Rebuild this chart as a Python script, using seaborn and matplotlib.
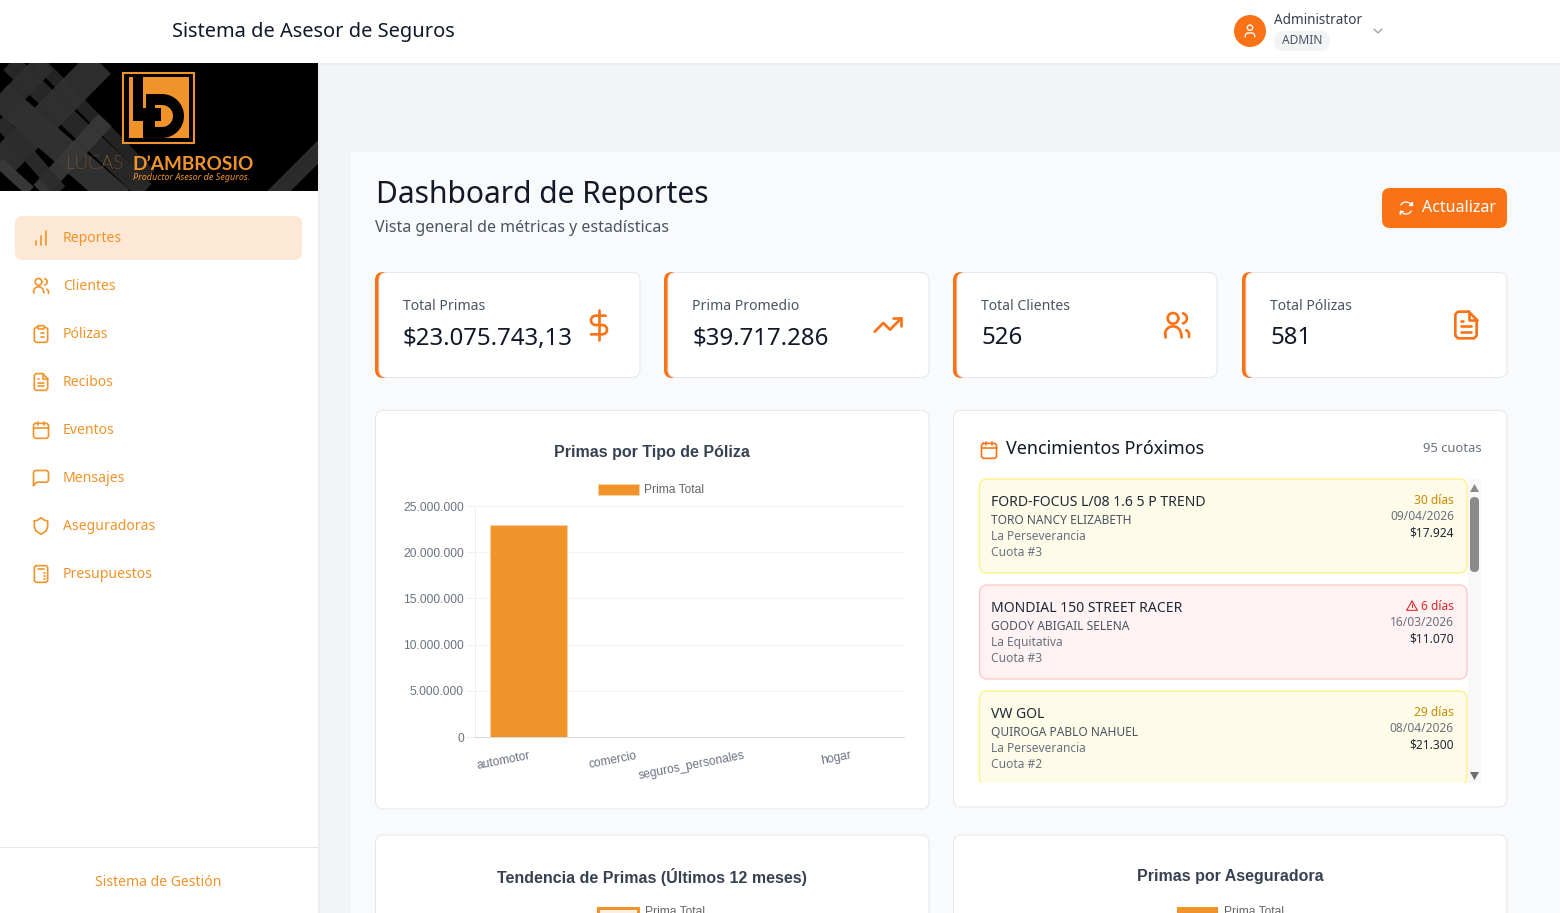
import numpy as np
import pandas as pd
import matplotlib
matplotlib.use('Agg')
import matplotlib.pyplot as plt
import seaborn as sns
from matplotlib.patches import FancyBboxPatch, Rectangle, Circle, Polygon
from matplotlib.ticker import FuncFormatter

# datos del grafico
tipos = ['automotor', 'comercio', 'seguros_personales', 'hogar']
primas = [22950000, 45000, 50000, 30743]
serie = 'Prima Total'
ticks_y = [0, 5000000, 10000000, 15000000, 20000000, 25000000]

# textos del panel
menu = ['Reportes', 'Clientes', 'Pólizas', 'Recibos', 'Eventos', 'Mensajes', 'Aseguradoras', 'Presupuestos']
menu_iconos = ['bars', 'users', 'clip', 'doc', 'cal', 'msg', 'shield', 'calc']
kpi_labels = ['Total Primas', 'Prima Promedio', 'Total Clientes', 'Total Pólizas']
kpi_values = ['$23.075.743,13', '$39.717.286', '526', '581']
kpi_iconos = ['dollar', 'trend', 'users', 'doc']
venc_titulos = ['FORD-FOCUS L/08 1.6 5 P TREND', 'MONDIAL 150 STREET RACER', 'VW GOL']
venc_clientes = ['TORO NANCY ELIZABETH', 'GODOY ABIGAIL SELENA', 'QUIROGA PABLO NAHUEL']
venc_cias = ['La Perseverancia', 'La Equitativa', 'La Perseverancia']
venc_cuotas = ['Cuota #3', 'Cuota #3', 'Cuota #2']
venc_dias = ['30 días', '6 días', '29 días']
venc_fechas = ['09/04/2026', '16/03/2026', '08/04/2026']
venc_montos = ['$17.924', '$11.070', '$21.300']

NARANJA = '#f0932b'
NARANJA2 = '#f97316'
UI_FONT = 'Noto Sans'
CHART_FONT = 'Liberation Sans'

sns.set_style('white')
plt.rcParams['font.family'] = [UI_FONT, 'DejaVu Sans']

fig = plt.figure(figsize=(15.6, 9.13), dpi=100, facecolor='#f3f4f6')

# capa de fondo en pixeles, y hacia abajo
ui = fig.add_axes([0, 0, 1, 1])
ui.set_xlim(0, 1560)
ui.set_ylim(913, 0)
ui.axis('off')


def rect(x0, y0, x1, y1, color, z=1, **kw):
    p = Rectangle((x0, y0), x1 - x0, y1 - y0, facecolor=color, edgecolor='none', zorder=z, **kw)
    ui.add_patch(p)
    return p


def rrect(x0, y0, x1, y1, r, fc, ec='none', lw=0.72, z=2):
    p = FancyBboxPatch((x0 + r, y0 + r), x1 - x0 - 2 * r, y1 - y0 - 2 * r,
                       boxstyle=f'round,pad={r},rounding_size={r}',
                       facecolor=fc, edgecolor=ec, linewidth=lw, zorder=z)
    ui.add_patch(p)
    return p


def txt(x, y, s, px, color, weight='normal', ha='left', family=UI_FONT, **kw):
    kw.setdefault('zorder', 6)
    return ui.text(x, y, s, fontsize=px * 0.72, color=color, fontweight=weight, ha=ha,
                   va='center', family=family, **kw)


def arco(cx, cy, r, a0, a1):
    a = np.radians(np.linspace(a0, a1, 24))
    return list(zip(cx + r * np.cos(a), cy + r * np.sin(a)))


# trazos de los iconos en una grilla de 24 unidades
def trazos(nombre):
    if nombre == 'bars':
        return [[(6, 20), (6, 16)], [(12, 20), (12, 10)], [(18, 20), (18, 4)]]
    if nombre == 'users':
        return [arco(9, 7, 4, 0, 360), arco(9, 19, 6, 180, 270) + arco(9, 19, 6, 270, 360),
                [(3, 21), (3, 19)], [(15, 21), (15, 19)],
                arco(15.5, 7, 3.9, -75, 75), [(21, 21), (21, 19)] + arco(17.8, 19, 3.2, 0, -70)]
    if nombre == 'user':
        return [arco(12, 7, 4, 0, 360), [(5, 21), (5, 19)] + arco(9, 19, 4, 180, 270) + arco(15, 19, 4, 270, 360) + [(19, 21)]]
    if nombre == 'doc':
        return [[(14, 2), (6, 2), (4, 4), (4, 20), (6, 22), (18, 22), (20, 20), (20, 8), (14, 2)],
                [(14, 2), (14, 8), (20, 8)], [(8, 9), (10, 9)], [(8, 13), (16, 13)], [(8, 17), (16, 17)]]
    if nombre == 'clip':
        return [[(8, 4), (6, 4), (4, 6), (4, 20), (6, 22), (18, 22), (20, 20), (20, 6), (18, 4), (16, 4)],
                [(9, 2), (15, 2), (16, 3), (16, 5), (15, 6), (9, 6), (8, 5), (8, 3), (9, 2)],
                [(8, 11), (8.5, 11)], [(12, 11), (16, 11)], [(8, 16), (8.5, 16)], [(12, 16), (16, 16)]]
    if nombre == 'cal':
        return [[(5, 4), (19, 4), (21, 6), (21, 20), (19, 22), (5, 22), (3, 20), (3, 6), (5, 4)],
                [(8, 2), (8, 6)], [(16, 2), (16, 6)], [(3, 10), (21, 10)]]
    if nombre == 'msg':
        return [[(3, 21), (3, 5), (5, 3), (19, 3), (21, 5), (21, 15), (19, 17), (7, 17), (3, 21)]]
    if nombre == 'shield':
        return [[(4, 6), (8, 5), (12, 2), (16, 5), (20, 6), (20, 13), (18, 18), (12, 22), (6, 18), (4, 13), (4, 6)]]
    if nombre == 'calc':
        base = [[(6, 2), (18, 2), (20, 4), (20, 20), (18, 22), (6, 22), (4, 20), (4, 4), (6, 2)], [(8, 6), (16, 6)]]
        for yy in (11, 14, 18):
            for xx in (8, 12, 16):
                base.append([(xx, yy), (xx + 0.4, yy)])
        return base
    if nombre == 'dollar':
        return [[(12, 1), (12, 23)],
                [(17, 5), (9.5, 5)] + arco(9.5, 8.5, 3.5, -90, -270) + [(14.5, 12)] + arco(14.5, 15.5, 3.5, -90, 90) + [(6, 19)]]
    if nombre == 'trend':
        return [[(22, 7), (13.5, 15.5), (8.5, 10.5), (2, 17)], [(16, 7), (22, 7), (22, 13)]]
    if nombre == 'refresh':
        return [arco(12, 12, 9, -150, -30) + [(21, 3.5)], [(21, 3), (21, 8), (16, 8)],
                arco(12, 12, 9, 30, 150) + [(3, 20.5)], [(3, 21), (3, 16), (8, 16)]]
    if nombre == 'alert':
        return [[(12, 3), (22, 20), (2, 20), (12, 3)], [(12, 9), (12, 14)], [(12, 17), (12, 17.4)]]
    if nombre == 'chevron':
        return [[(6, 9), (12, 15), (18, 9)]]
    return []


def icono(nombre, cx, cy, size, color, grosor=2):
    k = size / 24
    for t in trazos(nombre):
        pts = np.array(t)
        ui.plot(cx + (pts[:, 0] - 12) * k, cy + (pts[:, 1] - 12) * k, color=color,
                lw=grosor * k * 0.72, solid_capstyle='round', solid_joinstyle='round', zorder=7)


# fondos generales
rect(351, 152, 1560, 913, '#f9fafb', z=0.5)
rect(318, 63, 320, 913, '#eceef1', z=0.8)
rect(0, 63, 318, 913, 'white', z=1)
rect(0, 0, 1560, 63, 'white', z=1)
rect(0, 63, 1560, 65, '#eceef1', z=0.8)

# cabecera
txt(172, 31.5, 'Sistema de Asesor de Seguros', 20, '#111827', weight='medium')
ui.add_patch(Circle((1250, 31), 16, facecolor=NARANJA2, edgecolor='none', zorder=3))
icono('user', 1250, 31, 16, 'white')
txt(1274, 20.5, 'Administrator', 13.5, '#374151', weight='medium')
rrect(1274, 31, 1330, 51, 10, '#f3f4f6')
txt(1302, 41, 'ADMIN', 12, '#4b5563', ha='center', weight='medium')
icono('chevron', 1378, 31, 16, '#9ca3af', grosor=2)

# logo
rect(0, 63, 318, 191, 'black', z=2)
marco = Rectangle((0, 63), 318, 128, transform=ui.transData)
bandas = [(-30, 70, 120, 200, 20, '#333333'), (10, 63, 145, 191, 14, '#2a2a2a'), (40, 63, 150, 175, 9, '#262626'),
          (-20, 130, 45, 63, 16, '#2e2e2e'), (-10, 175, 100, 63, 22, '#303030'), (40, 191, 105, 120, 13, '#383838'),
          (-10, 110, 60, 191, 10, '#2c2c2c'), (270, 200, 330, 140, 12, '#2e2e2e'), (-15, 150, 30, 191, 8, '#3a3a3a')]
for x0, y0, x1, y1, ancho, col in bandas:
    ln, = ui.plot([x0, x1], [y0, y1], color=col, lw=ancho, alpha=0.95, solid_capstyle='butt', zorder=2.2)
    ln.set_clip_path(marco)
ui.add_patch(Rectangle((123, 73), 71, 70, facecolor='black', edgecolor=NARANJA, linewidth=1.5, zorder=2.5))
rect(129, 77, 189, 138, NARANJA, z=2.6)
ui.add_patch(Polygon([(146, 94)] + arco(162, 116, 22, -85, 85) + [(146, 138)], facecolor='black', edgecolor='none', zorder=2.7))
ui.add_patch(Polygon([(155, 105)] + arco(162, 116, 11, -85, 85) + [(155, 127)], facecolor=NARANJA, edgecolor='none', zorder=2.8))
ui.add_patch(Polygon([(129, 77), (143, 77), (143, 108), (161, 108), (161, 121), (146, 121), (146, 138), (143, 138), (143, 121), (133, 121), (133, 77)],
                     facecolor='black', edgecolor='none', zorder=2.9))
txt(66, 164, 'LUCAS', 19, NARANJA, weight='light', family='Lato')
txt(132, 164, 'D’AMBROSIO', 19, NARANJA, weight='bold', family='Lato')
txt(250, 177, 'Productor Asesor de Seguros.', 9, NARANJA, ha='right', style='italic')

# menu lateral
rrect(15, 216, 302, 260, 8, '#fce8d5')
for i, (nombre, ic) in enumerate(zip(menu, menu_iconos)):
    yy = 238 + 48 * i
    txt(63, yy, nombre, 14, NARANJA, weight='medium')
    icono(ic, 41, yy, 20, NARANJA)
rect(0, 847, 318, 848, '#e5e7eb', z=2)
txt(158, 882, 'Sistema de Gestión', 14, NARANJA, ha='center', weight='medium')

# titulo
txt(376, 195, 'Dashboard de Reportes', 30, '#111827', weight='bold')
txt(375, 228, 'Vista general de métricas y estadísticas', 16, '#4b5563')
rrect(1382, 188, 1507, 228, 8, NARANJA2)
icono('refresh', 1406, 208, 16, 'white')
txt(1422, 208, 'Actualizar', 16, 'white')

# tarjetas de indicadores
kpi_x = [(375, 640), (664, 929), (953, 1217), (1242, 1507)]
kpi_ic = [599, 888, 1177, 1466]
for (x0, x1), lab, val, ic, ix in zip(kpi_x, kpi_labels, kpi_values, kpi_iconos, kpi_ic):
    rrect(x0, 272, x0 + 24, 378, 8, NARANJA2, z=2)
    rrect(x0 + 4, 272.5, x1, 377.5, 8, 'white', ec='#e5e7eb', z=2.2)
    txt(x0 + 28, 307, lab, 14, '#4b5563', weight='medium')
    txt(x0 + 28, 338.5, val, 24, '#111827', weight='bold')
    icono(ic, ix, 325, 32, NARANJA2)

# tarjetas grandes
rrect(375.5, 410.5, 929, 809, 8, 'white', ec='#e5e7eb')
rrect(953.5, 410.5, 1507, 807, 8, 'white', ec='#e5e7eb')
rrect(375.5, 835, 929, 960, 8, 'white', ec='#e5e7eb')
rrect(953.5, 835, 1507, 960, 8, 'white', ec='#e5e7eb')

txt(652, 453, 'Primas por Tipo de Póliza', 16, '#374151', weight='bold', ha='center', family=CHART_FONT)
txt(652, 877, 'Tendencia de Primas (Últimos 12 meses)', 16, '#374151', weight='bold', ha='center', family=CHART_FONT)
txt(1230, 877, 'Primas por Aseguradora', 16, '#374151', weight='bold', ha='center', family=CHART_FONT)
rect(597, 907, 640, 920, NARANJA, z=3)
rect(600, 910, 637, 920, '#fdf0e3', z=3.1)
txt(645, 912, serie, 12, '#666666', family=CHART_FONT, clip_on=True)
rect(1177, 907, 1218, 920, NARANJA, z=3)
txt(1224, 912, serie, 12, '#666666', family=CHART_FONT, clip_on=True)

# vencimientos
icono('cal', 989, 450, 20, NARANJA2)
txt(1006, 449.5, 'Vencimientos Próximos', 18, '#111827', weight='medium')
txt(1482, 449, '95 cuotas', 13, '#6b7280', ha='right')
tops = [479, 585, 691]
for i, top in enumerate(tops):
    rojo = i == 1
    fc, ec = ('#fef2f2', '#fecaca') if rojo else ('#fefce8', '#fef08a')
    rrect(979.5, top, 1467, top + 94, 8, fc, ec=ec, lw=1, z=2)
    txt(991, top + 23, venc_titulos[i], 14, '#1f2937', weight='medium')
    txt(991, top + 41.5, venc_clientes[i], 12, '#4b5563')
    txt(991, top + 57.5, venc_cias[i], 12, '#6b7280')
    txt(991, top + 73.5, venc_cuotas[i], 12, '#6b7280')
    txt(1454, top + 22, venc_dias[i], 12, '#dc2626' if rojo else '#ca8a04', ha='right')
    txt(1454, top + 38, venc_fechas[i], 12, '#6b7280', ha='right')
    txt(1454, top + 54, venc_montos[i], 12, '#1f2937', ha='right', weight='medium')
icono('alert', 1412, 606, 13, '#dc2626')
rect(976, 783, 1483, 800, 'white', z=4)
rect(1468, 479, 1481, 783, '#f8f8f8', z=3)
rrect(1470, 497, 1479, 572, 4.5, '#8a8a8a', z=4)
ui.add_patch(Polygon([(1470, 492), (1479, 492), (1474.5, 484)], facecolor='#8a8a8a', edgecolor='none', zorder=4))
ui.add_patch(Polygon([(1470, 772), (1479, 772), (1474.5, 780)], facecolor='#6f6f6f', edgecolor='none', zorder=4))

# grafico de barras
df = pd.DataFrame({'tipo': tipos, 'prima': primas})
ax = fig.add_axes([475 / 1560, 1 - 737 / 913, 429 / 1560, 231 / 913])
ax.patch.set_alpha(0)
sns.barplot(data=df, x='tipo', y='prima', color=NARANJA, saturation=1, width=0.72,
            edgecolor='#f8cfa3', linewidth=0.72, label=serie, ax=ax, zorder=3)
ax.set_xlim(-0.5, 3.5)
ax.set_ylim(0, 25000000)
ax.set_yticks(ticks_y)
ax.yaxis.set_major_formatter(FuncFormatter(lambda v, _: f'{int(v):,}'.replace(',', '.')))
ax.set_xlabel('')
ax.set_ylabel('')
ax.grid(axis='y', color='#f2f2f2', lw=0.72, zorder=0)
ax.grid(axis='x', visible=False)
for lado in ['top', 'right']:
    ax.spines[lado].set_visible(False)
ax.spines['left'].set_color('#f0f0f0')
ax.spines['left'].set_linewidth(0.72)
ax.spines['bottom'].set_color('#d9d9d9')
ax.spines['bottom'].set_linewidth(0.72)
ax.tick_params(axis='y', length=6.5, width=0.72, color='#f0f0f0', pad=1.5, left=True, labelcolor='#6b7280')
ax.tick_params(axis='x', length=0, pad=9, labelcolor='#6b7280')
for lab in ax.get_yticklabels():
    lab.set_fontsize(8.64)
    lab.set_family(CHART_FONT)
for lab in ax.get_xticklabels():
    lab.set_fontsize(8.64)
    lab.set_family(CHART_FONT)
    lab.set_rotation(11)
    lab.set_ha('right')
    lab.set_rotation_mode('anchor')
ax.legend(loc='center', bbox_to_anchor=(0.411, 1.069), frameon=False, ncol=1,
          prop={'family': CHART_FONT, 'size': 8.64}, labelcolor='#666666',
          handlelength=3.4, handleheight=1.0, handletextpad=0.45, borderpad=0, borderaxespad=0)

fig.savefig('out.png', dpi=100, facecolor=fig.get_facecolor())
